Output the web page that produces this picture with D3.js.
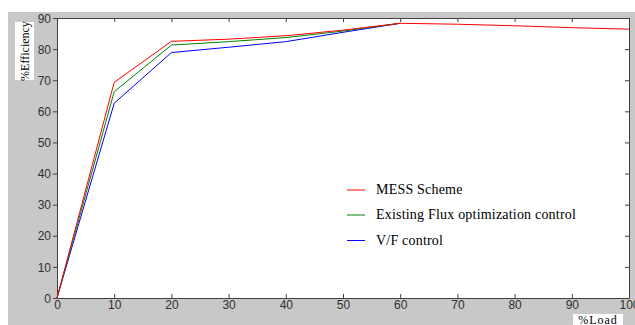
<!DOCTYPE html>
<html><head><meta charset="utf-8">
<script src="https://cdn.jsdelivr.net/npm/d3@7/dist/d3.min.js"></script>
<style>body{margin:0;background:#fff;}svg{display:block;}</style>
</head><body>
<svg id="c" width="635" height="325"></svg>
<script>
const loadRed = [0,10,20,30,40,50,60,70,80,90,100];
const mess = [0,69.3,82.5,83.2,84.3,86.1,88.3,88.0,87.5,86.9,86.4];
const loadOther = [0,10,20,30,40,50,60];
const flux = [0,66.3,81.3,82.4,83.7,85.8,88.3];
const vf = [0,62.6,78.9,80.6,82.4,85.4,88.3];
const xTicks = [0,10,20,30,40,50,60,70,80,90,100];
const yTicks = [0,10,20,30,40,50,60,70,80,90];
const seriesNames = ["MESS Scheme","Existing Flux optimization control","V/F control"];
const seriesColors = ["#ff0000","#008000","#0000ff"];

const svg = d3.select("#c");
svg.append("rect").attr("x",8).attr("y",12).attr("width",627).attr("height",313).attr("fill","#c8c8c8");
const L=57,R=629,T=18,B=298;
const x = d3.scaleLinear().domain([0,100]).range([L,R]);
const y = d3.scaleLinear().domain([0,90]).range([B,T]);
svg.append("rect").attr("x",L).attr("y",T).attr("width",R-L).attr("height",B-T).attr("fill","#fff");

const axCol="#404040";
const tf = "Arial, 'Liberation Sans', sans-serif";
const gb = svg.append("g").attr("transform",`translate(0,${B})`)
  .call(d3.axisBottom(x).tickValues(xTicks).tickSizeInner(-4).tickSizeOuter(0).tickPadding(4));
const gt = svg.append("g").attr("transform",`translate(0,${T})`)
  .call(d3.axisTop(x).tickValues(xTicks).tickSizeInner(-4).tickSizeOuter(0).tickFormat(""));
const gl = svg.append("g").attr("transform",`translate(${L},0)`)
  .call(d3.axisLeft(y).tickValues(yTicks).tickSizeInner(4).tickSizeOuter(0).tickPadding(2));
const gr = svg.append("g").attr("transform",`translate(${R},0)`)
  .call(d3.axisRight(y).tickValues(yTicks).tickSizeInner(-4).tickSizeOuter(0).tickFormat(""));
[gb,gt,gl,gr].forEach(g=>{
  g.selectAll("path").attr("stroke",axCol).attr("stroke-width",1);
  g.selectAll("line").attr("stroke",axCol);
  g.selectAll("text").attr("fill","#303030").style("font-family",tf).style("font-size","12px");
});
gb.selectAll("text").attr("dy","0.6em");
gl.selectAll("text").attr("dy","0.35em");

const line = d3.line().x(d=>x(d[0])).y(d=>y(d[1]));
const data = [
  {xs:loadOther, ys:vf, c:seriesColors[2]},
  {xs:loadOther, ys:flux, c:seriesColors[1]},
  {xs:loadRed, ys:mess, c:seriesColors[0]}
];
data.forEach(s=>{
  svg.append("path").datum(s.xs.map((v,i)=>[v,s.ys[i]]))
    .attr("d",line).attr("fill","none").attr("stroke",s.c).attr("stroke-width",1);
});

const sf = "'Liberation Serif','Times New Roman',serif";
const ly = [190,215,240.5];
seriesNames.forEach((n,i)=>{
  svg.append("line").attr("x1",347).attr("x2",365).attr("y1",ly[i]).attr("y2",ly[i])
    .attr("stroke",seriesColors[i]).attr("stroke-width",1);
  svg.append("text").attr("x",376).attr("y",ly[i]+4).text(n)
    .style("font-family",sf).style("font-size","14px").style("letter-spacing","0.2px").attr("fill","#000");
});

svg.append("rect").attr("x",15).attr("y",22).attr("width",19).attr("height",58).attr("fill","#fff");
svg.append("text").attr("transform","translate(29,51) rotate(-90)").attr("text-anchor","middle")
  .text("%Efficiency").style("font-family",sf).style("font-size","12px").attr("fill","#000");
svg.append("rect").attr("x",573).attr("y",314).attr("width",50).attr("height",11).attr("fill","#fff");
svg.append("text").attr("x",598).attr("y",324).attr("text-anchor","middle")
  .text("%Load").style("font-family",sf).style("font-size","12px").style("letter-spacing","1px").attr("fill","#000");
</script>
</body></html>
